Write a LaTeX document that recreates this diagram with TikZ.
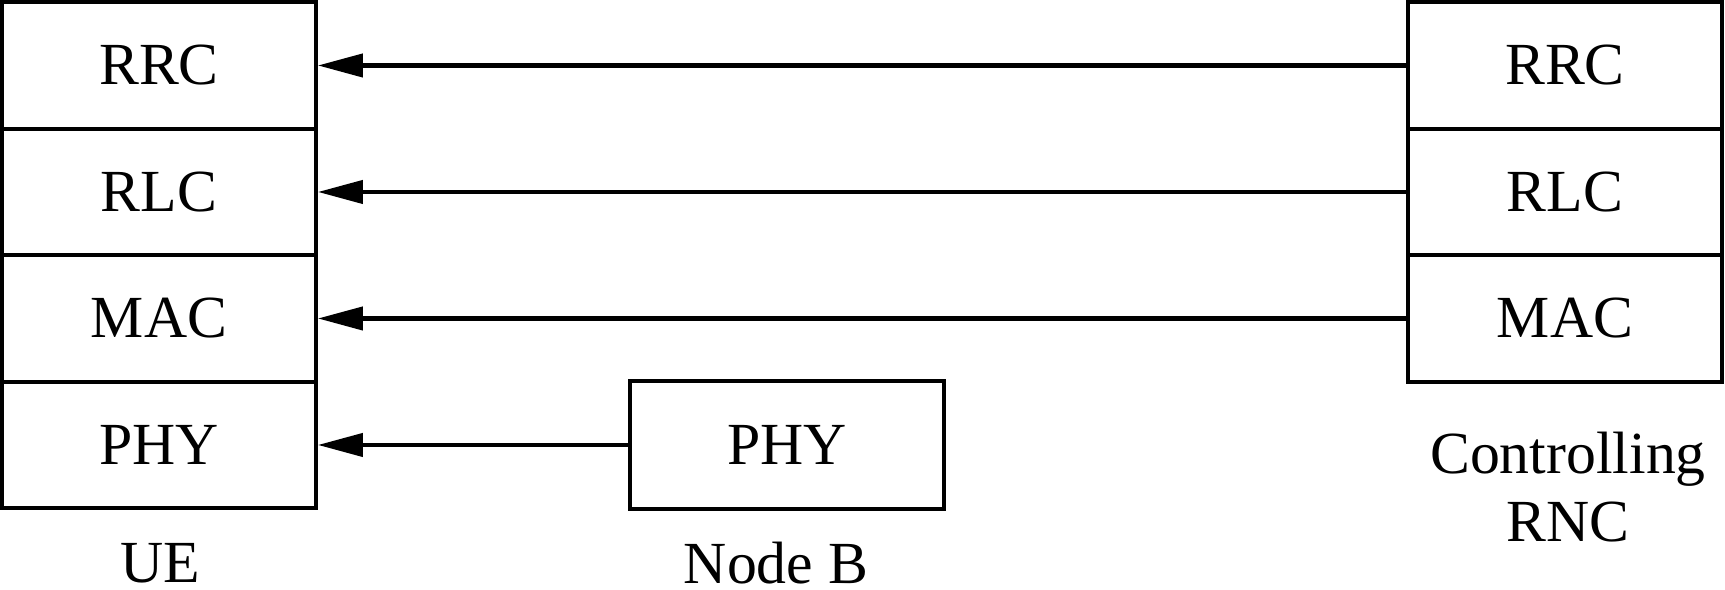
\documentclass[tikz,border=0pt]{standalone}
\usepackage{fontspec}
\setmainfont{Liberation Serif}
\usetikzlibrary{arrows.meta,positioning}

\tikzset{layer/.style={draw,line width=1.1pt,minimum width=3.14cm,
    minimum height=1.265cm,inner sep=0pt},
  tag/.style={inner sep=0pt,align=center}}

\begin{document}
\begin{tikzpicture}[>={Triangle[length=4.5mm,width=2.3mm]},
  font=\fontsize{17}{19.4}\selectfont]
\useasboundingbox (0,0) rectangle (17.25,5.9);
% UE stack
\node[layer] (ueRRC) at (1.59,5.245) {RRC};
\node[layer] (ueRLC) at (1.59,3.98) {RLC};
\node[layer] (ueMAC) at (1.59,2.715) {MAC};
\node[layer] (uePHY) at (1.59,1.45) {PHY};
% Node B
\node[layer,minimum height=1.28cm] (nbPHY) at (7.87,1.45) {PHY};
% controlling RNC stack
\node[layer] (rncRRC) at (15.65,5.245) {RRC};
\node[layer] (rncRLC) at (15.65,3.98) {RLC};
\node[layer] (rncMAC) at (15.65,2.715) {MAC};
% labels
\node[tag] (ue) at (1.60,0.27) {UE};
\node[tag] (nb) at (7.76,0.27) {Node B};
\node[tag] (rnc) at (15.68,1.03) {Controlling\\RNC};
% arrows
\foreach\l in {RRC,RLC,MAC}
\draw[->,line width=1.2pt] (rnc\l.west) -- (ue\l.east);
\draw[->,line width=1.2pt] (nbPHY.west) -- (uePHY.east);
\end{tikzpicture}
\end{document}
